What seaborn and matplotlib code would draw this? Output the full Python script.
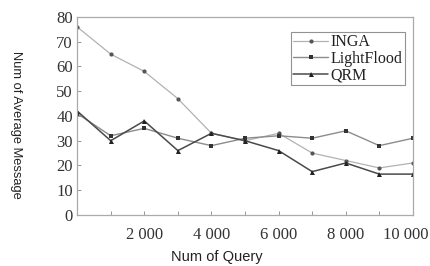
import matplotlib
matplotlib.use("Agg")
import matplotlib.pyplot as plt
import matplotlib.transforms as mtransforms
import seaborn as sns
import pandas as pd

queries = [0, 1000, 2000, 3000, 4000, 5000, 6000, 7000, 8000, 9000, 10000]
inga = [76, 65, 58, 47, 33, 30, 33, 25, 22, 19, 21]
lightflood = [41, 32, 35, 31, 28, 31, 32, 31, 34, 28, 31]
qrm = [42, 30, 38, 26, 33, 30, 26, 17.5, 21, 16.5, 16.5]
series_names = ["INGA", "LightFlood", "QRM"]
x_ticks = [2000, 4000, 6000, 8000, 10000]
x_tick_labels = ["2 000", "4 000", "6 000", "8 000", "10 000"]
y_ticks = [0, 10, 20, 30, 40, 50, 60, 70, 80]

sns.set_style("white")
plt.rcParams['font.family'] = ['Liberation Serif', 'DejaVu Serif']

fig = plt.figure(figsize=(4.31, 2.66), dpi=100)
ax = fig.add_axes([0.179, 0.192, 0.779, 0.744])

styles = {
    "INGA": dict(color="#b2b2b2", mfc="#555555", marker="o", markersize=3.0, lw=0.9),
    "LightFlood": dict(color="#8c8c8c", mfc="#333333", marker="s", markersize=3.2, lw=1.0),
    "QRM": dict(color="#4a4a4a", mfc="#222222", marker="^", markersize=3.6, lw=1.1),
}
for name, vals in zip(series_names, [inga, lightflood, qrm]):
    df = pd.DataFrame({"q": queries, "v": vals})
    st = styles[name]
    sns.lineplot(data=df, x="q", y="v", ax=ax, label=name, color=st["color"],
                 marker=st["marker"], markersize=st["markersize"], linewidth=st["lw"],
                 markeredgewidth=0, markerfacecolor=st["mfc"])

ax.set_xlim(0, 10000)
ax.set_ylim(0, 80)
ax.set_xticks(x_ticks)
ax.set_xticklabels(x_tick_labels, fontsize=12)
ax.set_xticks(queries, minor=True)
ax.set_yticks(y_ticks)
ax.set_yticklabels([str(v) for v in y_ticks], fontsize=12)
ax.tick_params(axis="both", which="both", direction="in", length=3, width=0.6,
               color="#888888", bottom=True, left=True, pad=3)
ax.tick_params(axis="x", which="major", pad=9)
for lbl in ax.get_yticklabels():
    lbl.set_color("#333333")
xl = ax.get_xticklabels()
for lbl in xl:
    lbl.set_color("#333333")
xl[-1].set_transform(xl[-1].get_transform() +
                     mtransforms.ScaledTranslation(-7 / 100, 0, fig.dpi_scale_trans))
for s in ax.spines.values():
    s.set_color("#aaaaaa")
    s.set_linewidth(0.9)

ax.set_xlabel("Num of Query", family=["Liberation Sans"], fontsize=10.5, color="#222222")
ax.xaxis.set_label_coords(0.417, -0.175)
ax.set_ylabel("Num of Average Message", family=["Liberation Sans"], fontsize=9.3,
              rotation=270, color="#222222", va="center")
ax.yaxis.set_label_coords(-0.183, 0.455)

leg = ax.legend(loc="upper right", bbox_to_anchor=(0.976, 0.924), fontsize=11.5,
                frameon=True, fancybox=False, handlelength=2.2, handletextpad=0.15,
                borderpad=0.15, labelspacing=0.02, borderaxespad=0)
leg.get_frame().set_edgecolor("#777777")
leg.get_frame().set_linewidth(0.8)
for t in leg.get_texts():
    t.set_color("#222222")

fig.savefig("out.png", dpi=100)
